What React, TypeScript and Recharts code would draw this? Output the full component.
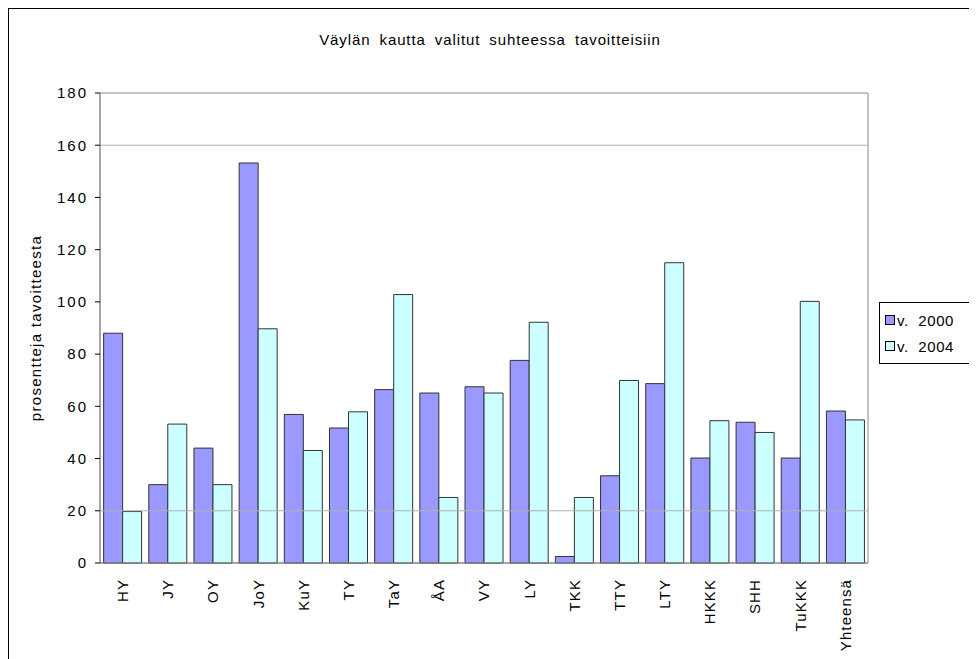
import { BarChart, Bar, XAxis, YAxis, ReferenceLine, ReferenceArea } from "recharts";

const categories = ["HY", "JY", "OY", "JoY", "KuY", "TY", "TaY", "ÅA", "VY", "LY", "TKK", "TTY", "LTY", "HKKK", "SHH", "TuKKK", "Yhteensä"];
const v2000 = [88, 30, 44, 153.2, 56.9, 51.7, 66.4, 65.1, 67.5, 77.6, 2.5, 33.4, 68.7, 40.2, 53.9, 40.2, 58.2];
const v2004 = [19.7, 53.2, 30, 89.7, 43.1, 57.9, 102.8, 25.1, 65.1, 92.2, 25.1, 69.9, 115, 54.5, 50, 100.2, 54.8];
const seriesNames = ["v.  2000", "v.  2004"];
const seriesColors = ["#9999FF", "#CCFFFF"];
const yTicks = [0, 20, 40, 60, 80, 100, 120, 140, 160, 180];
const gridValues = [20, 160];

const FONT = '"Liberation Sans", Arial, Helvetica, sans-serif';

const data = categories.map((name, i) => ({ name, a: v2000[i], b: v2004[i] }));

function XTick({ x, y, payload }: any) {
  return (
    <g transform={`translate(${x},${y + 8}) rotate(-90)`}>
      <text textAnchor="end" dy="0.36em" fontSize={15} fontFamily={FONT} fill="#000" letterSpacing={1.1}>
        {payload.value}
      </text>
    </g>
  );
}

function LegendBox() {
  return (
    <div
      style={{
        position: "absolute",
        left: 871,
        top: 294,
        width: 92,
        boxSizing: "border-box",
        border: "1px solid #000",
        background: "#fff",
        padding: "4px 0 4px 5px",
        fontFamily: FONT,
        fontSize: 15,
      }}
    >
      {seriesNames.map((label, i) => (
        <div key={label} style={{ display: "flex", alignItems: "center", height: 26, whiteSpace: "pre" }}>
          <span style={{ display: "inline-block", width: 8, height: 8, border: "1px solid #000", background: seriesColors[i], marginRight: 2 }} />
          <span style={{ letterSpacing: 0.6 }}>{label}</span>
        </div>
      ))}
    </div>
  );
}

export default function App() {
  return (
    <div style={{ position: "relative", width: 964, height: 651, fontFamily: FONT }}>
      <div style={{ position: "absolute", left: 0, top: 23, width: 964, textAlign: "center", fontSize: 15, wordSpacing: 4, letterSpacing: 0.9 }}>
        Väylän kautta valitut suhteessa tavoitteisiin
      </div>
      <BarChart
        width={964}
        height={651}
        data={data}
        margin={{ top: 85, right: 104, bottom: 0, left: 0 }}
        barCategoryGap="8%"
        barGap={0}
      >
        <ReferenceArea y1={0} y2={180} fill="none" stroke="#888" strokeWidth={1} ifOverflow="visible" />
        {gridValues.map((v) => (
          <ReferenceLine key={v} y={v} stroke="#b0b0b0" strokeWidth={1} />
        ))}
        <XAxis
          dataKey="name"
          height={96}
          interval={0}
          axisLine={{ stroke: "#888" }}
          tickLine={false}
          tick={<XTick />}
        />
        <YAxis
          width={92}
          domain={[0, 180]}
          ticks={yTicks}
          interval={0}
          axisLine={{ stroke: "#888" }}
          tickLine={{ stroke: "#000" }}
          tickSize={5}
          tickMargin={7}
          tick={{ fontSize: 15, fontFamily: FONT, fill: "#000", letterSpacing: 2 }}
          label={{
            value: "prosentteja  tavoitteesta",
            angle: -90,
            position: "insideLeft",
            offset: 28,
            style: { textAnchor: "middle", fontSize: 15, fontFamily: FONT, fill: "#000", letterSpacing: 1.3 },
          }}
        />
        <Bar dataKey="a" name={seriesNames[0]} fill={seriesColors[0]} stroke="#333" strokeWidth={1} isAnimationActive={false} />
        <Bar dataKey="b" name={seriesNames[1]} fill={seriesColors[1]} stroke="#333" strokeWidth={1} isAnimationActive={false} />
      </BarChart>
      <LegendBox />
      <div style={{ position: "absolute", left: -1, top: -1, width: 2, height: 652, background: "#000", pointerEvents: "none" }} />
      <div style={{ position: "absolute", left: -1, top: -1, width: 966, height: 2, background: "#000", pointerEvents: "none" }} />
      <div style={{ position: "absolute", left: 963, top: -1, width: 2, height: 652, background: "#000", pointerEvents: "none" }} />
    </div>
  );
}
